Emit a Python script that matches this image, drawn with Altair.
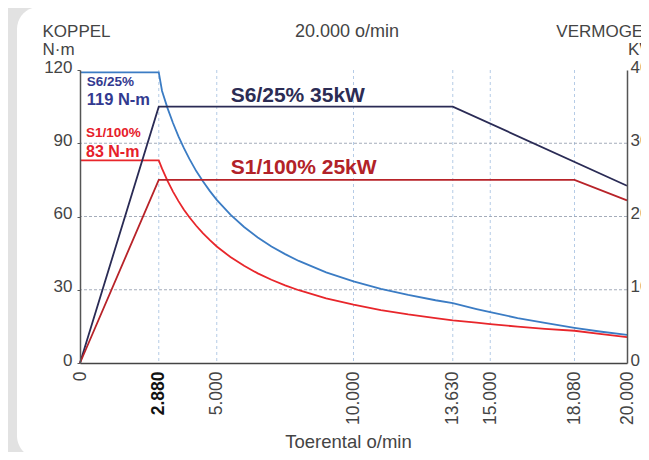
import altair as alt
import pandas as pd

# ---------------- data ----------------
torque_rpm = [0, 2880, 3000, 3200, 3400, 3600, 3800, 4000, 4250, 4500, 4750, 5000,
              5500, 6000, 6500, 7000, 7500, 8000, 9000, 10000, 11000, 12000, 13000,
              13630, 14500, 15000, 16000, 17000, 18080, 19000, 20000]
s6_torque = [119, 119, 111.4, 104.4, 98.3, 92.8, 88.0, 83.6, 78.6, 74.3, 70.4, 66.8,
             60.8, 55.7, 51.4, 47.7, 44.6, 41.8, 37.1, 33.4, 30.4, 27.9, 25.7,
             24.5, 22.1, 20.8, 18.4, 16.4, 14.4, 12.9, 11.5]
s1_torque = [83, 83, 79.6, 74.6, 70.2, 66.3, 62.8, 59.7, 56.2, 53.1, 50.3, 47.7,
             43.4, 39.8, 36.7, 34.1, 31.8, 29.8, 26.5, 23.9, 21.7, 19.9, 18.4,
             17.5, 16.5, 15.9, 14.9, 14.0, 13.2, 11.9, 10.6]

s6_power_rpm = [0, 2880, 13630, 20000]
s6_power = [0, 35, 35, 24.2]
s1_power_rpm = [0, 2880, 18080, 20000]
s1_power = [0, 25, 25, 22.2]

x_ticks = [0, 2880, 5000, 10000, 13630, 15000, 18080, 20000]
torque_ticks = [0, 30, 60, 90, 120]
power_ticks = [0, 10, 20, 30, 40]

series_torque = ["S6/25% koppel", "S1/100% koppel"]
series_power = ["S6/25% vermogen", "S1/100% vermogen"]

label_text = ["S6/25%", "119 N-m", "S1/100%", "83 N-m", "S6/25% 35kW", "S1/100% 25kW"]
label_rpm = [245, 245, 220, 220, 5510, 5510]
label_torque = [113.6, 105.6, 92.4, 84.5, 107.0, 77.4]

chart_title = "20.000 o/min"

# ---------------- styles ----------------
FONT = "Liberation Sans"
label_colors = ["#333a90", "#333a90", "#e6202a", "#e6202a", "#2c2c54", "#b22228"]
label_sizes = [13.5, 16.5, 13.5, 16, 21, 21]

torque_df = pd.DataFrame({
    "rpm": torque_rpm + torque_rpm,
    "torque": s6_torque + s1_torque,
    "series": [series_torque[0]] * len(torque_rpm) + [series_torque[1]] * len(torque_rpm),
})
power_df = pd.DataFrame({
    "rpm": s6_power_rpm + s1_power_rpm,
    "power": s6_power + s1_power,
    "series": [series_power[0]] * len(s6_power_rpm) + [series_power[1]] * len(s1_power_rpm),
})
labels_df = pd.DataFrame({"rpm": label_rpm, "torque": label_torque, "text": label_text})

bold_test = "datum.value == 2880"
x_axis = alt.Axis(
    values=x_ticks, grid=False, ticks=False, labelAngle=270, labelPadding=8,
    labelFontSize=17.5, labelFlush=False, labelOverlap=False, zindex=1,
    labelColor={"condition": {"test": bold_test, "value": "#111"}, "value": "#444"},
    labelFontWeight={"condition": {"test": bold_test, "value": "bold"}, "value": "normal"},
    labelExpr="replace(format(datum.value, ','), ',', '.')",
    domainColor="#444", domainWidth=1.5,
    title="Toerental o/min", titleFontSize=18.5, titleFontWeight="normal",
    titleColor="#444", titleX=268, titleY=84, titleBaseline="alphabetic",
)
X = alt.X("rpm:Q", scale=alt.Scale(domain=[0, 20000], nice=False, zero=False), axis=x_axis)

yt_axis = alt.Axis(
    values=torque_ticks, grid=False, tickSize=3, tickColor="#555", labelPadding=5,
    labelFontSize=17, labelColor="#444", labelFlush=False, labelOffset=-3, zindex=1,
    domainColor="#555", domainWidth=1.5,
    title=["KOPPEL", "N·m"], titleAngle=0, titleAlign="left", titleBaseline="alphabetic",
    titleX=-38, titleY=-34, titleFontSize=17, titleFontWeight="normal",
    titleColor="#444", titleLineHeight=18.5,
)
Yt = alt.Y("torque:Q", scale=alt.Scale(domain=[0, 120], nice=False), axis=yt_axis)

yp_axis = alt.Axis(
    orient="right", values=power_ticks, grid=False, ticks=False, labelPadding=3,
    labelFontSize=17, labelColor="#444", labelFlush=False, labelOffset=-3, zindex=1,
    domainColor="#555", domainWidth=1.5,
    title=["VERMOGEN", "KW"], titleAngle=0, titleAlign="right", titleBaseline="alphabetic",
    titleX=28, titleY=-34, titleFontSize=17, titleFontWeight="normal",
    titleColor="#444", titleLineHeight=18.5,
)
Yp = alt.Y("power:Q", scale=alt.Scale(domain=[0, 40], nice=False), axis=yp_axis)

# white card behind the chart
card = alt.Chart(pd.DataFrame({"c": [0]})).mark_rect(
    color="white", cornerRadius=22
).encode(x=alt.value(-63), x2=alt.value(640), y=alt.value(-63), y2=alt.value(388))

title_mark = alt.Chart(pd.DataFrame({"t": [chart_title]})).mark_text(
    fontSize=18, color="#444", font=FONT, align="center", baseline="alphabetic"
).encode(x=alt.value(267), y=alt.value(-33), text="t:N")

grid_v = alt.Chart(pd.DataFrame({"rpm": x_ticks[1:-1]})).mark_rule(
    color="#b5cbe6", strokeDash=[3, 3], strokeWidth=1
).encode(x=X)
grid_h = alt.Chart(pd.DataFrame({"torque": torque_ticks[1:-1]})).mark_rule(
    color="#9aa3b2", strokeDash=[3, 2], strokeWidth=0.9
).encode(y=Yt)

torque_lines = alt.Chart(torque_df).mark_line(strokeWidth=1.8).encode(
    x=X, y=Yt,
    color=alt.Color("series:N", scale=alt.Scale(domain=series_torque,
                                                range=["#3b7cc4", "#e8262b"]), legend=None),
)

labels = []
for i in range(len(label_text)):
    labels.append(
        alt.Chart(labels_df.iloc[[i]]).mark_text(
            align="left", baseline="alphabetic", fontWeight="bold",
            fontSize=label_sizes[i], color=label_colors[i], font=FONT,
        ).encode(x=X, y=Yt, text="text:N")
    )

torque_layer = alt.layer(grid_v, grid_h, torque_lines, *labels)

power_lines = alt.Chart(power_df).mark_line(strokeWidth=1.8).encode(
    x=X, y=Yp,
    color=alt.Color("series:N", scale=alt.Scale(domain=series_power,
                                                range=["#2a2b55", "#b82329"]), legend=None),
)
power_layer = alt.layer(power_lines)

chart = alt.layer(card, title_mark, torque_layer, power_layer).resolve_scale(
    y="independent", color="independent"
).properties(
    width=547, height=293,
    padding={"left": 72, "top": 62, "right": 14, "bottom": 89},
    autosize=alt.AutoSizeParams(type="none"),
    background="#e2e2e2",
).configure_view(stroke="#111", strokeWidth=1).configure(font=FONT)

chart.save("out.html", embed_options={"renderer": "svg", "actions": False})
